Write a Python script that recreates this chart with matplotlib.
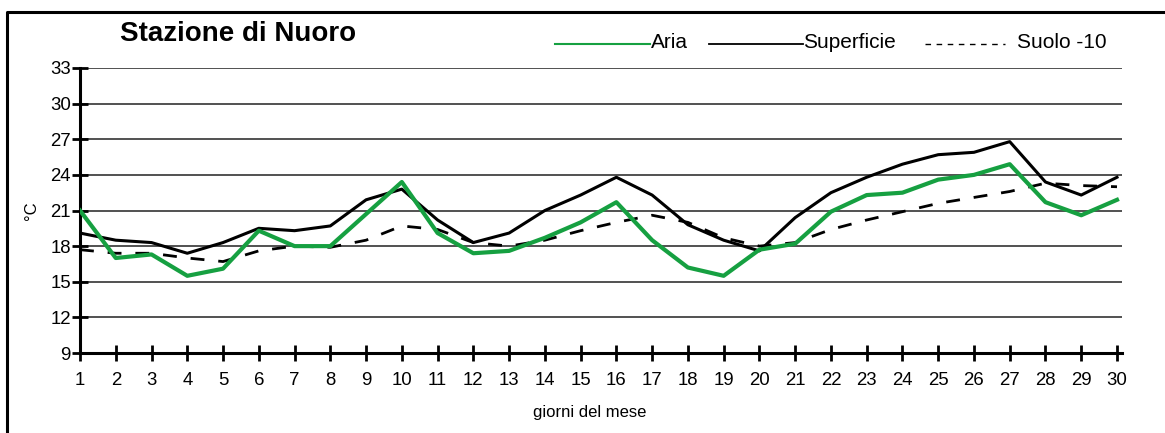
import matplotlib
matplotlib.use("Agg")
import matplotlib.pyplot as plt
from matplotlib.lines import Line2D

plt.rcParams['font.family'] = ['Liberation Sans', 'DejaVu Sans']

# giorni del mese
giorni = list(range(1, 31))

# temperature (°C)
aria = [21.0, 17.0, 17.3, 15.5, 16.1, 19.3, 18.0, 18.0, 20.7, 23.4,
        19.1, 17.4, 17.6, 18.7, 20.0, 21.7, 18.5, 16.2, 15.5, 17.7,
        18.2, 20.9, 22.3, 22.5, 23.6, 24.0, 24.9, 21.7, 20.6, 21.9]
superficie = [19.1, 18.5, 18.3, 17.4, 18.3, 19.5, 19.3, 19.7, 21.9, 22.8,
              20.2, 18.3, 19.1, 21.0, 22.3, 23.8, 22.3, 19.8, 18.5, 17.6,
              20.4, 22.5, 23.8, 24.9, 25.7, 25.9, 26.8, 23.4, 22.3, 23.8]
suolo = [17.7, 17.4, 17.4, 17.0, 16.7, 17.6, 18.0, 17.9, 18.5, 19.7,
         19.4, 18.3, 18.0, 18.5, 19.3, 20.0, 20.6, 20.0, 18.7, 18.0,
         18.3, 19.4, 20.2, 20.9, 21.6, 22.1, 22.6, 23.3, 23.1, 23.0]

y_ticks = [9, 12, 15, 18, 21, 24, 27, 30, 33]

W, H = 1165, 433
fig = plt.figure(figsize=(W / 100, H / 100), dpi=100)
ax = fig.add_axes([80 / W, 80 / H, 1042 / W, 285 / H])

# griglia orizzontale
for v in y_ticks[1:]:
    ax.axhline(v, color='#222222', linewidth=1.1, zorder=1)

ax.plot(giorni, suolo, color='black', linewidth=2.0, linestyle=(0, (5, 5)), zorder=3)
ax.plot(giorni, superficie, color='black', linewidth=2.2, zorder=4)
ax.plot(giorni, aria, color='#16a041', linewidth=3.0, zorder=5)

ax.set_xlim(1, 30.14)
ax.set_ylim(9, 33)
ax.set_xticks(giorni)
ax.set_yticks(y_ticks)
ax.tick_params(axis='both', direction='inout', length=11, width=2, labelsize=13.4)
ax.tick_params(axis='x', pad=8)
ax.tick_params(axis='y', pad=1)
for s in ['top', 'right']:
    ax.spines[s].set_visible(False)
for s in ['left', 'bottom']:
    ax.spines[s].set_linewidth(2.2)

ax.set_ylabel('°C', fontsize=12, labelpad=8)
fig.text(590 / W, 1 - 412 / H, 'giorni del mese', fontsize=12, ha='center', va='center')

fig.text(120 / W, 1 - 34 / H, 'Stazione di Nuoro', fontsize=20,
         fontweight='bold', va='center', ha='left')

# legenda disegnata a mano
ly = 1 - 44 / H
ty = 1 - 43 / H
fig.add_artist(Line2D([555 / W, 650 / W], [ly, ly], color='#16a041', linewidth=1.5))
fig.text(651 / W, ty, 'Aria', fontsize=15, va='center', ha='left')
fig.add_artist(Line2D([709 / W, 803 / W], [ly, ly], color='black', linewidth=1.3))
fig.text(803 / W, ty, 'Superficie', fontsize=15, va='center', ha='left')
fig.add_artist(Line2D([925 / W, 1005 / W], [ly, ly], color='black', linewidth=1.0,
                      linestyle=(0, (4, 4))))
fig.text(1017 / W, ty, 'Suolo -10', fontsize=15, va='center', ha='left')

# cornice esterna
fig.add_artist(Line2D([7 / W, 7 / W, 1.0], [0, 1 - 12 / H, 1 - 12 / H],
                      color='black', linewidth=2.2))

fig.savefig('out.png', dpi=100)
